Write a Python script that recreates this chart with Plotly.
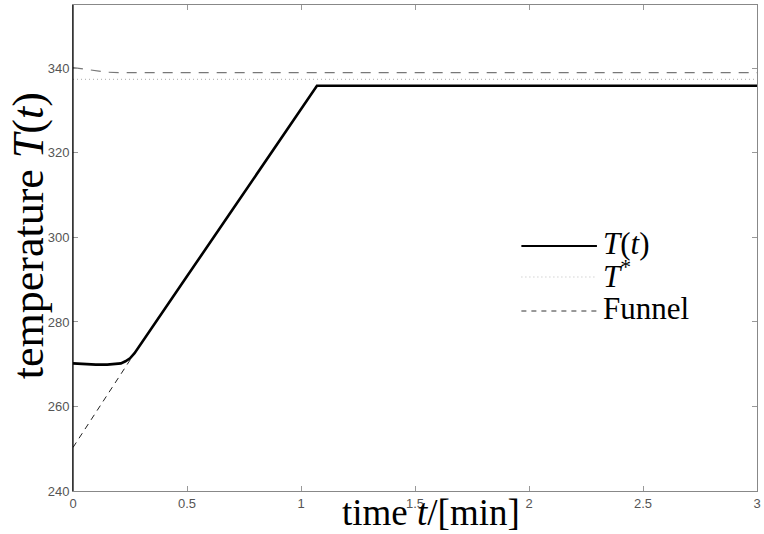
import plotly.graph_objects as go

# Temperature trajectory T(t)
t_T = [0.0, 0.05, 0.10, 0.15, 0.19, 0.21, 0.23, 0.25, 0.27, 0.30, 0.50, 0.70, 0.90, 1.00, 1.05, 1.07, 1.5, 2.0, 2.5, 3.0]
T_T = [270.2, 270.0, 269.9, 269.9, 270.0, 270.2, 270.7, 271.4, 272.6, 275.0, 290.8, 306.6, 322.4, 330.3, 334.2, 335.9, 335.9, 335.9, 335.9, 335.9]

# Set point T*
t_star = [0.0, 3.0]
T_star = [337.4, 337.4]

# Funnel: lower boundary (visible part) and upper boundary
t_fun_lo = [0.0, 0.26]
T_fun_lo = [250.3, 271.8]
t_fun_up = [0.0, 0.03, 0.07, 0.11, 0.15, 0.20, 3.0]
T_fun_up = [340.2, 340.0, 339.6, 339.3, 339.1, 339.0, 339.0]

x_ticks = [0, 0.5, 1, 1.5, 2, 2.5, 3]
x_tick_labels = ["0", "0.5", "1", "1.5", "2", "2.5", "3"]
y_ticks = [240, 260, 280, 300, 320, 340]
y_tick_labels = ["240", "260", "280", "300", "320", "340"]

legend_names = ["<i>T</i>(<i>t</i>)", "<i>T</i><sup>*</sup>", "Funnel"]

SERIF = "Liberation Serif"
SANS = "Liberation Sans"

fig = go.Figure()
fig.add_trace(go.Scatter(x=t_fun_lo, y=T_fun_lo, mode="lines",
                         line=dict(color="#222222", width=1, dash="6px,5px"), showlegend=False))
fig.add_trace(go.Scatter(x=t_fun_up, y=T_fun_up, mode="lines",
                         line=dict(color="#777777", width=1.2, dash="10px,8px"), showlegend=False))
fig.add_trace(go.Scatter(x=t_star, y=T_star, mode="lines",
                         line=dict(color="#bbbbbb", width=1.2, dash="1px,3px"), showlegend=False))
fig.add_trace(go.Scatter(x=t_T, y=T_T, mode="lines",
                         line=dict(color="black", width=2.6), showlegend=False))

axis_common = dict(showgrid=False, zeroline=False, ticks="inside", ticklen=5,
                   tickcolor="#999999", tickwidth=1, showline=True, linecolor="#888888",
                   linewidth=1, mirror="ticks",
                   tickfont=dict(family=SANS, size=13, color="#555555"))

fig.update_xaxes(range=[0, 3], tickvals=x_ticks, ticktext=x_tick_labels,
                 ticklabeloverflow="allow", **axis_common)
fig.update_yaxes(range=[240, 355], tickvals=y_ticks, ticktext=y_tick_labels, **axis_common)

# black left axis line
fig.add_shape(type="line", xref="paper", yref="paper", x0=0, x1=0, y0=0, y1=1,
              line=dict(color="black", width=1.2))

W, H = 764, 534
ml, mr, mt, mb = 73, 3, 5, 43
pw, ph = W - ml - mr, H - mt - mb
def px(pix):
    return (pix - ml) / pw
def py(pix):
    return (H - mb - pix) / ph

# manual legend
leg_y = [246, 277, 311]
styles = [dict(color="black", width=2.2),
          dict(color="#bbbbbb", width=1.2, dash="1px,3px"),
          dict(color="#333333", width=1, dash="5px,5px")]
for yy, name, st in zip(leg_y, legend_names, styles):
    fig.add_shape(type="line", xref="paper", yref="paper", x0=px(524), x1=px(600),
                  y0=py(yy), y1=py(yy), line=st)
    fig.add_annotation(xref="paper", yref="paper", x=px(604), y=py(yy - 3), text=name,
                       showarrow=False, xanchor="left", yanchor="middle",
                       font=dict(family=SERIF, size=31, color="black"))

fig.add_annotation(xref="paper", yref="paper", x=px(433), y=py(512),
                   text="time <i>t</i>/[min]", showarrow=False, xanchor="center", yanchor="middle",
                   font=dict(family=SERIF, size=37, color="black"))
fig.add_annotation(xref="paper", yref="paper", x=px(28), y=py(236),
                   text="temperature <i>T</i>(<i>t</i>)", showarrow=False, textangle=-90,
                   xanchor="center", yanchor="middle",
                   font=dict(family=SERIF, size=44, color="black"))

fig.update_layout(width=W, height=H, margin=dict(l=ml, r=mr, t=mt, b=mb),
                  plot_bgcolor="white", paper_bgcolor="white", showlegend=False)

fig.write_html("out.html", config={"displayModeBar": False},
               post_script="document.body.style.margin='0px';document.body.style.overflow='hidden';")
